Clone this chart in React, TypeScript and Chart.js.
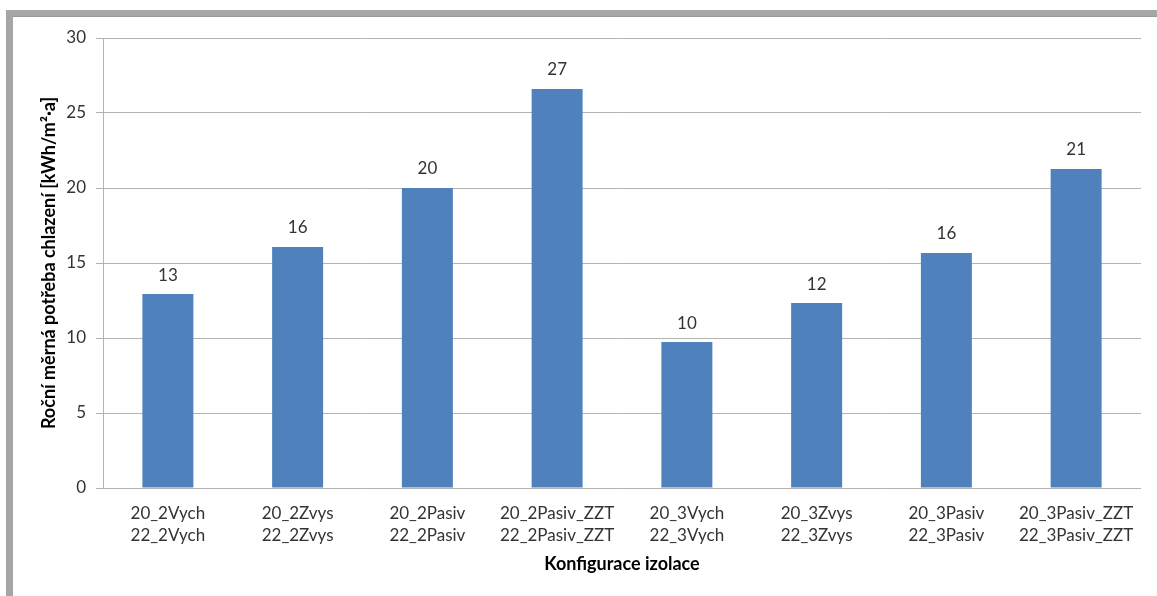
import React, { useEffect, useRef } from 'react';
import { Chart, registerables } from 'chart.js';

Chart.register(...registerables);

const categories: string[][] = [
  ['20_2Vych', '22_2Vych'],
  ['20_2Zvys', '22_2Zvys'],
  ['20_2Pasiv', '22_2Pasiv'],
  ['20_2Pasiv_ZZT', '22_2Pasiv_ZZT'],
  ['20_3Vych', '22_3Vych'],
  ['20_3Zvys', '22_3Zvys'],
  ['20_3Pasiv', '22_3Pasiv'],
  ['20_3Pasiv_ZZT', '22_3Pasiv_ZZT'],
];
const values: number[] = [12.93, 16.07, 20.0, 26.6, 9.73, 12.33, 15.67, 21.27];
const yMin = 0;
const yMax = 30;
const yStep = 5;
const yTitle = 'Roční měrná potřeba chlazení [kWh/m²·a]';
const xTitle = 'Konfigurace izolace';

const FONT = 'Lato';

const framePlugin = {
  id: 'frameAndLabels',
  afterDraw(chart: any) {
    const ctx = chart.ctx;
    ctx.save();
    // window frame
    ctx.fillStyle = '#a6a6a6';
    ctx.fillRect(6, 10, 7, 586);
    ctx.fillRect(6, 10, 1151, 7);
    ctx.fillStyle = '#999999';
    ctx.fillRect(13, 16, 1144, 1);
    // data labels
    const meta = chart.getDatasetMeta(0);
    ctx.fillStyle = '#333333';
    ctx.font = `17px ${FONT}`;
    ctx.textAlign = 'center';
    ctx.textBaseline = 'middle';
    meta.data.forEach((bar: any, i: number) => {
      ctx.fillText(String(Math.round(values[i])), bar.x, bar.y - 19);
    });
    ctx.restore();
  },
};

export default function App() {
  const ref = useRef<HTMLCanvasElement | null>(null);
  useEffect(() => {
    if (!ref.current) return;
    const chart = new Chart(ref.current, {
      type: 'bar',
      data: {
        labels: categories,
        datasets: [
          {
            data: values,
            backgroundColor: '#4f81bd',
            borderWidth: 0,
            categoryPercentage: 1,
            barPercentage: 0.393,
          },
        ],
      },
      options: {
        animation: false,
        responsive: false,
        devicePixelRatio: 1,
        layout: { padding: { left: 38, right: 16, top: 38, bottom: 0 } },
        plugins: {
          legend: { display: false },
          tooltip: { enabled: false },
        },
        scales: {
          x: {
            grid: { display: false },
            border: { display: false },
            ticks: {
              color: '#333333',
              font: { family: FONT, size: 17, lineHeight: 1.3 },
              padding: 6,
              maxRotation: 0,
              autoSkip: false,
            },
            title: {
              display: true,
              text: xTitle,
              color: '#000000',
              font: { family: FONT, size: 18, weight: 'bold' },
              padding: { top: 0, bottom: 21 },
            },
            afterFit(scale: any) {
              scale.height = 108;
            },
          },
          y: {
            min: yMin,
            max: yMax,
            ticks: {
              stepSize: yStep,
              color: '#333333',
              font: { family: FONT, size: 17 },
              padding: 10,
            },
            grid: {
              color: '#b3b3b3',
              lineWidth: 1,
              tickLength: 7,
            },
            border: { display: true, color: '#b3b3b3' },
            title: {
              display: true,
              text: yTitle,
              color: '#000000',
              font: { family: FONT, size: 18, weight: 'bold' },
              padding: { top: 0, bottom: 0 },
            },
            afterFit(scale: any) {
              scale.width = 65;
            },
          },
        },
      },
      plugins: [framePlugin],
    });
    return () => chart.destroy();
  }, []);
  return (
    <div style={{ position: 'fixed', left: 0, top: 0, width: 1157, height: 596, background: '#ffffff' }}>
      <canvas ref={ref} width={1157} height={596} style={{ display: 'block' }} />
    </div>
  );
}
